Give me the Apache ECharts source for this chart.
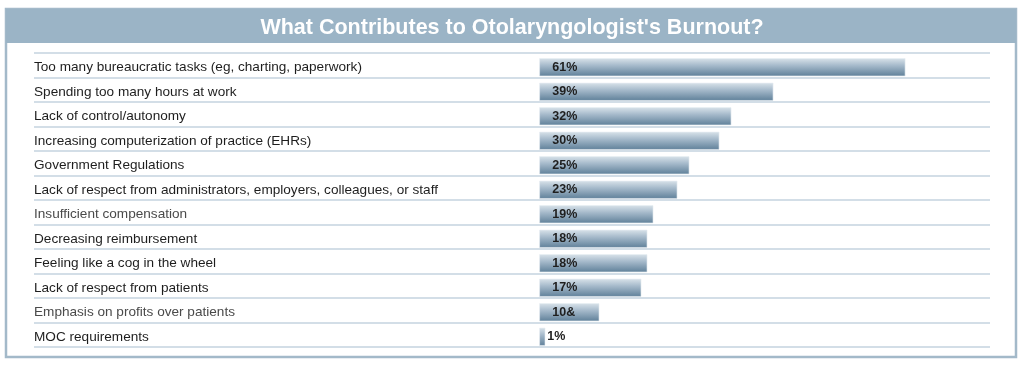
<!DOCTYPE html>
<html>
<head>
<meta charset="utf-8">
<script src="https://cdn.jsdelivr.net/npm/echarts@6/dist/echarts.min.js"></script>
<style>
html,body{margin:0;padding:0;background:#fff;}
#chart{width:1024px;height:366px;}
</style>
</head>
<body>
<div id="chart"></div>
<script>
const titleText = "What Contributes to Otolaryngologist's Burnout?";
const categories = [
  "Too many bureaucratic tasks (eg, charting, paperwork)",
  "Spending too many hours at work",
  "Lack of control/autonomy",
  "Increasing computerization of practice (EHRs)",
  "Government Regulations",
  "Lack of respect from administrators, employers, colleagues, or staff",
  "Insufficient compensation",
  "Decreasing reimbursement",
  "Feeling like a cog in the wheel",
  "Lack of respect from patients",
  "Emphasis on profits over patients",
  "MOC requirements"
];
const values = [61, 39, 32, 30, 25, 23, 19, 18, 18, 17, 10, 1];
const valueLabels = ["61%", "39%", "32%", "30%", "25%", "23%", "19%", "18%", "18%", "17%", "10&", "1%"];
const lighterRows = [6, 10];

const chart = echarts.init(document.getElementById('chart'));

const catData = categories.map((c, i) => ({
  value: c,
  textStyle: { color: lighterRows.includes(i) ? '#4a4a4a' : '#1e1e1e' }
}));

const barData = values.map((v, i) => {
  const item = { value: v };
  if (v < 3) item.label = { position: 'right', distance: 2 };
  return item;
});

const barGradient = new echarts.graphic.LinearGradient(0, 0, 0, 1, [
  { offset: 0, color: '#d9e3ea' },
  { offset: 0.4, color: '#a6bacb' },
  { offset: 1, color: '#5f8099' }
]);

chart.setOption({
  animation: false,
  backgroundColor: '#ffffff',
  title: {
    text: titleText,
    left: 'center',
    top: 12,
    textStyle: {
      color: '#ffffff',
      fontFamily: 'Liberation Sans, Arial, sans-serif',
      fontWeight: 900,
      fontSize: 21.5
    }
  },
  graphic: [
    {
      type: 'rect', z: -10, silent: true,
      shape: { x: 6, y: 9, width: 1010, height: 348 },
      style: { fill: '#ffffff', stroke: '#a3b9c9', lineWidth: 2.5 }
    },
    {
      type: 'rect', z: -9, silent: true,
      shape: { x: 6, y: 9, width: 1010, height: 34 },
      style: { fill: '#9bb4c6' }
    }
  ],
  grid: [
    { left: 34, top: 53, width: 956, height: 294 },
    { left: 34, top: 55, width: 956, height: 294 }
  ],
  xAxis: [
    { gridIndex: 0, type: 'value', min: 0, max: 100, show: false },
    { gridIndex: 1, type: 'value', min: -84.2, max: 75.1, show: false }
  ],
  yAxis: [
    {
      gridIndex: 0, type: 'category', inverse: true, data: categories,
      axisLine: { show: false }, axisTick: { show: false }, axisLabel: { show: false },
      splitLine: { show: true, lineStyle: { color: '#d3dee7', width: 2 } }
    },
    {
      gridIndex: 1, type: 'category', inverse: true, data: catData,
      axisLine: { show: false }, axisTick: { show: false },
      splitLine: { show: false },
      axisLabel: {
        inside: true, margin: 0, align: 'left',
        fontFamily: 'Liberation Sans, Arial, sans-serif',
        fontSize: 13.6, color: '#1e1e1e'
      }
    }
  ],
  series: [
    {
      type: 'bar',
      xAxisIndex: 1, yAxisIndex: 1,
      data: barData,
      barWidth: 18,
      itemStyle: { color: barGradient, borderColor: '#e6edf2', borderWidth: 0.6 },
      label: {
        show: true,
        position: 'insideLeft',
        distance: 13,
        formatter: p => valueLabels[p.dataIndex],
        fontFamily: 'Liberation Sans, Arial, sans-serif',
        fontWeight: 'bold',
        fontSize: 12.5,
        color: '#1f1f1f'
      }
    }
  ]
});
</script>
</body>
</html>
